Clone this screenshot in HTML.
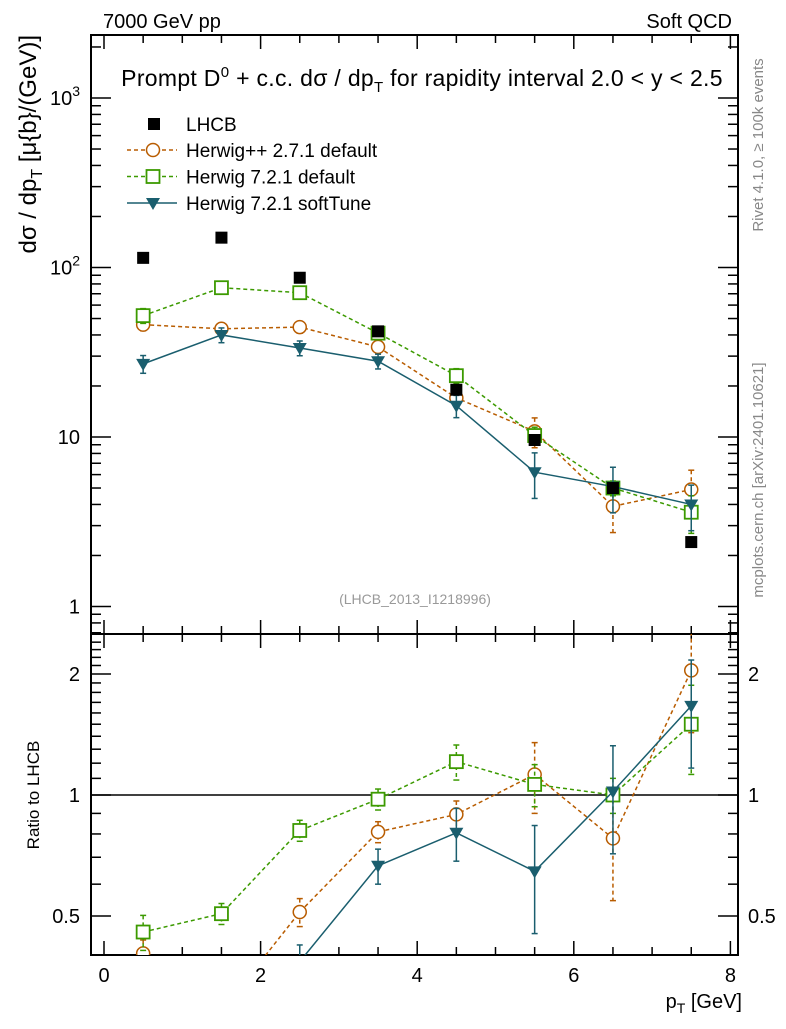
<!DOCTYPE html>
<html><head><meta charset="utf-8"><style>
body{margin:0;background:#fff;}
svg text{font-family:"Liberation Sans",sans-serif;}
</style></head><body>
<svg id="c" width="786" height="1024" xmlns="http://www.w3.org/2000/svg">
<defs>
<clipPath id="cm"><rect x="91" y="35" width="647" height="599"/></clipPath>
<clipPath id="cr"><rect x="91" y="634" width="647" height="321"/></clipPath>
</defs>
<text x="103" y="28" font-size="20">7000 GeV pp</text>
<text x="732" y="28" font-size="20" text-anchor="end">Soft QCD</text>
<text x="422" y="86" font-size="23" text-anchor="middle" letter-spacing="0.3">Prompt D<tspan dy="-9" font-size="15">0</tspan><tspan dy="9"> + c.c.  dσ / dp</tspan><tspan dy="6" font-size="15">T</tspan><tspan dy="-6"> for rapidity interval 2.0 &lt; y &lt; 2.5</tspan></text>
<text transform="translate(36,35) rotate(-90)" font-size="24" text-anchor="end">dσ / dp<tspan dy="6" font-size="16">T</tspan><tspan dy="-6"> [μ{b}/(GeV)]</tspan></text>
<text transform="translate(39,795) rotate(-90)" font-size="17" text-anchor="middle">Ratio to LHCB</text>
<text x="742" y="1008" font-size="20" text-anchor="end">p<tspan dy="5" font-size="14">T</tspan><tspan dy="-5"> [GeV]</tspan></text>
<text transform="translate(763,145) rotate(-90)" font-size="15" fill="#888" text-anchor="middle">Rivet 4.1.0, ≥ 100k events</text>
<text transform="translate(763,480) rotate(-90)" font-size="15" fill="#888" text-anchor="middle">mcplots.cern.ch [arXiv:2401.10621]</text>
<text x="415" y="604" font-size="14" fill="#999" text-anchor="middle">(LHCB_2013_I1218996)</text>
<g id="g"></g>
</svg>
<script>
const xCenters=[0.5,1.5,2.5,3.5,4.5,5.5,6.5,7.5];
const lhcb=[114,150,87,42,19,9.6,5.0,2.4];
const herwigpp=[46,43.5,44.5,34,17,10.8,3.9,4.9];
const herwigppErr=[0.08,0.08,0.08,0.06,0.08,0.2,0.3,0.3];
const h7def=[52,76,71,41,23,10.2,5.0,3.6];
const h7defErr=[0.1,0.06,0.06,0.06,0.1,0.12,0.1,0.25];
const h7soft=[27,40,33.5,28,15.3,6.2,5.1,4.0];
const h7softErr=[0.12,0.1,0.1,0.1,0.15,0.3,0.3,0.3];
const xTicks=[0,2,4,6,8];
const yTicksMain=[1,10,100,1000];
const rTicks=[0.5,1,2];

const NS="http://www.w3.org/2000/svg",G=document.getElementById('g');
const X=v=>104+v*78.3;
const YM=v=>98-(Math.log10(v)-3)*169.5;
const YR=v=>795-Math.log2(v)*121;
function el(t,a,p){const e=document.createElementNS(NS,t);for(const k in a)e.setAttribute(k,a[k]);(p||G).appendChild(e);return e;}
const f1=el('rect',{x:91,y:35,width:647,height:599,fill:'none',stroke:'#000','stroke-width':2});


const f2=el('rect',{x:91,y:634,width:647,height:321,fill:'none',stroke:'#000','stroke-width':2});


for(let v=0;v<=8.01;v+=0.5){const maj=Math.abs(v%2)<1e-6,L=maj?14:8,x=X(v);
 [[634,-1],[35,1],[955,-1],[634,1]].forEach(([y,d])=>el('line',{x1:x,x2:x,y1:y,y2:y+d*L,stroke:'#000','stroke-width':1.5}));}
xTicks.forEach(v=>{const t=el('text',{x:X(v),y:982,'font-size':20,'text-anchor':'middle'});t.textContent=v;
 
 });
for(let d=-1;d<=3;d++)for(let m=1;m<10;m++){const v=m*Math.pow(10,d),y=YM(v);if(y<35||y>634)continue;const L=m==1?20:10;
 el('line',{x1:91,x2:91+L,y1:y,y2:y,stroke:'#000','stroke-width':1.5});el('line',{x1:738,x2:738-L,y1:y,y2:y,stroke:'#000','stroke-width':1.5});}
yTicksMain.forEach((v,i)=>{const t=el('text',{x:80,y:YM(v)+7,'font-size':20,'text-anchor':'end'});
 if(v>=100){t.textContent='10';const s=el('tspan',{dy:-9,'font-size':14},t);s.textContent=v==100?'2':'3';}else t.textContent=v;
 
 });
for(let v=0.4;v<=2.5;v+=0.1){const y=YR(v);if(y<634||y>955)continue;const maj=rTicks.some(r=>Math.abs(r-v)<1e-6),L=maj?20:10;
 el('line',{x1:91,x2:91+L,y1:y,y2:y,stroke:'#000','stroke-width':1.5});el('line',{x1:738,x2:738-L,y1:y,y2:y,stroke:'#000','stroke-width':1.5});}
rTicks.forEach(v=>{[[80,'end'],[748,'start']].forEach(([x,a])=>{const t=el('text',{x:x,y:YR(v)+7,'font-size':20,'text-anchor':a});t.textContent=v;
 
 });});
el('line',{x1:91,x2:738,y1:YR(1),y2:YR(1),stroke:'#000','stroke-width':1.5});

const series=[
 {name:'herwigpp',vals:herwigpp,err:herwigppErr,col:'#b85c00',dash:'4,3',mk:'circle',label:'Herwig++ 2.7.1 default'},
 {name:'herwig7-default',vals:h7def,err:h7defErr,col:'#3c9a00',dash:'4,3',mk:'square',label:'Herwig 7.2.1 default'},
 {name:'herwig7-softtune',vals:h7soft,err:h7softErr,col:'#1a5e6e',dash:'',mk:'tri',label:'Herwig 7.2.1 softTune'}];
function marker(s,x,y,par){let m;
 if(s.mk=='circle')m=el('circle',{cx:x,cy:y,r:6.5,fill:'#fff',stroke:s.col,'stroke-width':1.5},par);
 else if(s.mk=='square')m=el('rect',{x:x-6.5,y:y-6.5,width:13,height:13,fill:'#fff',stroke:s.col,'stroke-width':1.8},par);
 else m=el('path',{d:`M${x-7},${y-5}L${x+7},${y-5}L${x},${y+7}Z`,fill:s.col},par);
 return m;}
function drawPanel(Yf,valsOf,clip,tag){const gp=el('g',{'clip-path':`url(#${clip})`});
 series.forEach(s=>{const v=valsOf(s);
  const pl=el('polyline',{points:xCenters.map((x,i)=>X(x)+','+Yf(v[i])).join(' '),fill:'none',stroke:s.col,'stroke-width':1.5,'stroke-dasharray':s.dash},gp);
  
  
  xCenters.forEach((x,i)=>{const px=X(x),y1=Yf(v[i]*(1+s.err[i])),y2=Yf(v[i]*(1-s.err[i]));
   el('line',{x1:px,x2:px,y1:y1,y2:y2,stroke:s.col,'stroke-width':1.5,'stroke-dasharray':s.dash},gp);
   el('line',{x1:px-3,x2:px+3,y1:y1,y2:y1,stroke:s.col,'stroke-width':1.5},gp);
   el('line',{x1:px-3,x2:px+3,y1:y2,y2:y2,stroke:s.col,'stroke-width':1.5},gp);
   const m=marker(s,px,Yf(v[i]),gp);
   
   });});
 return gp;}
const gm=drawPanel(YM,s=>s.vals,'cm','main');
xCenters.forEach((x,i)=>{const r=el('rect',{x:X(x)-6,y:YM(lhcb[i])-6,width:12,height:12,fill:'#000'},gm);
 
 });
drawPanel(YR,s=>s.vals.map((v,i)=>v/lhcb[i]),'cr','ratio');
const lr=el('rect',{x:148,y:118,width:12,height:12,fill:'#000'});


const lt=el('text',{x:186,y:131,'font-size':19});lt.textContent='LHCB';


series.forEach((s,i)=>{const y=150+i*26.5;
 el('line',{x1:127,x2:177,y1:y,y2:y,stroke:s.col,'stroke-width':1.5,'stroke-dasharray':s.dash});
 marker(s,153,y);
 const t=el('text',{x:186,y:y+7,'font-size':19});t.textContent=s.label;
 
 });
</script>
</body></html>
